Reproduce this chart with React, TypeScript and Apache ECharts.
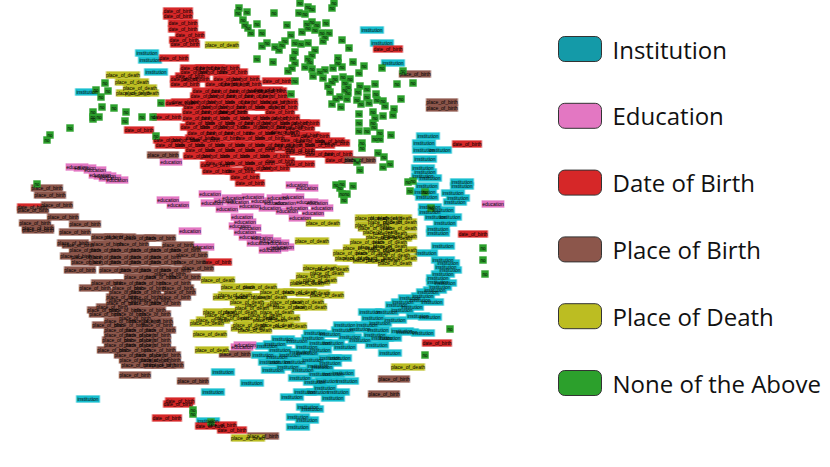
import React, { useEffect, useRef } from "react";
import * as echarts from "echarts";

const institution = [
[147,53],[150,60],[156,72],[87,92],[372,30],[382,43],[393,63],[428,136],[424,143],[424,150],[425,159],[423,168],[425,172],[423,176],[462,182],[462,186],[427,186],[425,192],[427,197],[453,193],[458,198],[455,202],[430,207],[443,210],[436,217],[450,217],[438,229],[438,233],[443,246],[426,253],[443,260],[448,263],[446,267],[443,274],[438,278],[438,282],[440,287],[428,292],[423,296],[420,300],[403,302],[397,305],[402,310],[387,312],[430,317],[418,316],[373,318],[380,323],[367,325],[378,330],[402,331],[423,333],[407,332],[382,338],[377,345],[390,353],[315,333],[343,330],[350,337],[313,338],[333,343],[307,347],[280,350],[290,355],[307,353],[277,357],[330,358],[340,358],[313,360],[330,363],[273,370],[303,370],[320,374],[333,374],[343,373],[327,381],[347,381],[325,388],[338,392],[305,392],[292,397],[333,398],[308,407],[312,409],[298,417],[307,420],[298,427],[223,372],[252,383],[213,392],[88,399],[208,421],[267,346],[263,355],[280,362],[295,362],[300,378],[318,366],[283,339],[297,341],[320,350],[345,347],[360,340],[275,344],
[330,334],[360,329],[395,320],[410,298],[432,302],[445,283],[320,343],[300,352],[288,367],[270,362],[315,382],[322,367],[345,325],[375,335],[390,338],[370,312],[412,307],[435,290],[450,270],[430,212],[445,223],[440,150],[430,178],[318,392]
];

const education = [
[77,167],[85,168],[95,170],[100,175],[110,178],[117,180],[105,176],[171,162],[210,194],[168,200],[178,205],[212,203],[233,198],[253,197],[238,202],[250,206],[227,209],[242,217],[245,222],[250,228],[190,231],[203,247],[250,237],[258,243],[245,345],[242,347],[297,185],[307,188],[278,198],[293,197],[307,202],[317,203],[275,203],[297,208],[313,213],[300,218],[493,204],[277,248],[278,243],[270,250],[240,226],[262,201],[285,203],[287,211],[245,232],[262,238],[270,241],[283,247],[225,201],[270,208],[322,208]
];

const dateOfBirth = [
[178,11],[178,16],[183,23],[183,29],[190,35],[184,40],[185,44],[174,58],
[195,68],[210,68],[225,68],[195,72],[212,72],[233,72],[190,76],[185,79],[195,79],[228,79],[245,79],[185,84],[220,84],[235,84],[247,84],
[207,91],[225,91],[243,91],[260,91],[272,91],[205,96],[222,96],[240,96],[258,96],[273,96],
[186,102],[203,102],[220,102],[240,102],[255,102],[275,102],[283,102],[198,107],[215,107],[232,107],[250,107],[270,107],[283,107],
[197,112],[215,112],[233,112],[232,112],[197,118],[215,118],[235,118],[255,118],[275,118],[285,118],
[200,123],[220,123],[240,123],[258,123],[275,123],[295,123],[305,123],[195,127],[215,127],[232,127],[255,127],[272,127],[290,127],
[202,133],[220,133],[238,133],[260,133],[280,133],[305,135],[315,136],[200,138],[225,138],[250,138],[270,138],[310,141],[330,141],
[168,140],[185,140],[205,140],[170,145],[190,145],[210,145],[230,145],[250,145],[270,145],[288,145],[300,145],[320,145],[335,143],
[200,150],[220,150],[240,150],[260,150],[280,148],[300,150],[198,156],[215,156],[235,156],[255,156],[275,156],[300,152],[320,154],[338,154],
[220,163],[240,163],[260,163],[280,161],[300,164],[275,168],[217,171],[240,171],[245,177],[250,183],[388,49],[467,144],[167,117],[139,130],[180,103],[32,207],[217,262],[180,401],[178,404],[167,418],[210,426],[222,425],[232,430],[473,234],[437,343],[277,81],
[285,132],[295,140],[215,165],[258,168],[268,90],[280,112],[300,128],[340,160]
];

const placeOfBirth = [
[163,155],[47,188],[50,195],[57,205],[33,210],[63,217],[35,223],[38,228],[85,224],[38,230],[75,232],[107,237],[120,237],[140,238],[73,243],[107,244],[133,244],
[85,250],[105,250],[125,250],[145,250],[165,250],[185,250],[87,257],[105,257],[125,257],[145,257],[165,257],[192,255],[87,262],[105,262],[125,262],[145,262],[165,262],[190,262],
[80,270],[115,270],[135,270],[155,270],[175,270],[198,268],[140,277],[160,277],[185,277],[107,283],[130,283],[150,283],[175,283],[95,288],[128,288],[150,288],[178,288],
[125,292],[145,292],[180,292],[122,297],[145,297],[175,297],[122,303],[145,303],[165,303],[103,310],[125,310],[150,310],[105,314],[130,314],[155,314],[120,321],[145,321],[157,321],[108,325],[130,325],[157,325],
[120,330],[140,330],[160,330],[120,335],[140,335],[155,335],[118,340],[140,340],[155,340],[120,345],[140,345],[155,345],[113,350],[135,350],[160,350],[130,355],[150,355],[165,355],[135,360],[155,360],[165,360],[137,365],[160,365],[168,365],
[135,375],[235,354],[193,381],[360,160],[415,74],[442,102],[442,108],[394,379],[384,394],[263,436],
[78,245],[160,238],[178,245],[76,256],[155,300],[112,307],[135,318],[125,300],[170,274]
];

const placeOfDeath = [
[222,45],[123,75],[132,82],[140,88],[142,93],[133,93],[323,223],[372,218],[385,218],[385,222],[400,222],[372,225],[390,233],[383,237],[367,242],[390,242],[390,246],[400,228],[375,228],[395,238],[350,253],[373,253],[393,255],[352,258],[383,260],[370,260],[400,250],[360,248],[312,241],
[332,269],[327,273],[313,276],[307,283],[313,282],[218,280],[238,287],[260,287],[230,297],[253,297],[247,302],[252,308],[220,312],[222,315],[213,320],[207,323],[250,325],[248,328],[210,334],[212,350],
[277,292],[300,292],[313,293],[327,295],[287,302],[307,302],[290,307],[310,307],[277,312],[283,318],[277,325],[290,326],[270,297],[265,315],[258,318],[408,367],[248,438],
[395,218],[380,232],[400,236],[375,247],[385,250],[360,258],[400,258],[395,263],[320,280],[320,268],[235,295],[240,312],[262,305],[270,320],[255,330],[232,318]
];

const noneOfTheAbove = [
[239,8],[238,13],[247,12],[243,20],[245,25],[248,28],[257,24],[251,33],[262,33],[262,46],[267,43],[257,59],[105,83],[96,90],[108,91],[101,97],[161,103],[93,112],[93,117],[93,119],[99,117],[102,107],[114,108],[126,112],[125,121],[142,117],[153,117],[70,128],[50,135],[47,140],[156,136],[37,184],
[300,3],[334,3],[308,7],[312,9],[332,8],[274,13],[299,13],[305,14],[287,25],[312,22],[307,24],[317,25],[326,23],[308,28],[315,30],[302,32],[322,33],[329,33],[291,35],[325,37],[323,41],[342,40],[285,41],[282,45],[295,43],[301,44],[308,43],[275,47],[279,50],[349,48],[295,52],[315,50],[312,55],[308,59],[293,58],[273,62],[295,63],[310,62],[338,58],[338,63],[353,62],[305,67],[292,68],[288,71],[312,69],[320,72],[325,70],[333,68],[342,67],[364,66],[382,68],[403,71],[359,73],[313,76],[323,78],[335,79],[343,77],[350,79],[295,81],[332,82],[345,83],[397,84],[413,83],[328,86],[348,87],[360,86],[375,84],[330,92],[345,90],[358,92],[367,89],[348,93],[291,94],[376,94],[340,97],[347,99],[367,97],[336,99],[357,100],[401,99],[332,104],[341,107],[361,104],[369,103],[383,101],[385,106],[377,100],[394,109],[359,114],[373,112],[383,116],[393,115],[375,118],[373,123],[359,123],[374,127],[359,131],[367,131],[380,133],[391,135],[380,139],[375,139],[362,143],[362,148],[378,153],[384,157],[390,164],[383,167],[357,162],[360,170],[336,185],[353,186],[342,184],[340,188],[347,194],[342,194],[344,200],[408,182],[413,181],[410,191],[425,192],[431,208],[483,248],[483,260],[485,274],[450,329],[425,355],[193,410],[193,414],[211,422]
];

const seriesNames = ["Institution", "Education", "Date of Birth", "Place of Birth", "Place of Death", "None of the Above"];
const shortLabels = ["institution", "education", "date_of_birth", "place_of_birth", "place_of_death", "no"];
const markColors = ["#17becf", "#e377c2", "#d62728", "#8c564b", "#bcbd22", "#2ca02c"];
const haloColors = ["rgba(23,190,207,0.4)", "rgba(227,119,194,0.4)", "rgba(214,39,40,0.4)", "rgba(140,86,75,0.4)", "rgba(188,189,34,0.4)", "rgba(44,160,44,0.4)"];
const legendColors = ["#149aa8", "#e377c2", "#d62728", "#8c564b", "#bcbd22", "#2ca02c"];
const boxSizes = [[23, 7], [22, 7], [29, 7], [31, 7], [33, 7], [7, 7]];
const pointSets = [institution, education, dateOfBirth, placeOfBirth, placeOfDeath, noneOfTheAbove];

export default function App() {
  const ref = useRef<HTMLDivElement>(null);
  useEffect(() => {
    document.body.style.margin = "0";
    const chart = echarts.init(ref.current!, undefined, { renderer: "svg" });
    chart.setOption({
      animation: false,
      backgroundColor: "#ffffff",
      grid: { left: 0, right: 0, top: 0, bottom: 0 },
      xAxis: { type: "value", min: 0, max: 830, show: false },
      yAxis: { type: "value", min: 0, max: 467, inverse: true, show: false },
      legend: {
        orient: "vertical",
        left: 558,
        top: 36,
        padding: 0,
        itemWidth: 43,
        itemHeight: 25,
        itemGap: 40.8,
        selectedMode: false,
        textStyle: { fontFamily: "Open Sans", fontSize: 24, color: "#111", padding: [0, 0, 0, 6], lineHeight: 25, height: 25 },
        data: seriesNames.map((name, i) => ({
          name,
          icon: "roundRect",
          itemStyle: { color: legendColors[i], borderColor: "#333", borderWidth: 1 },
        })),
      },
      series: seriesNames.map((name, i) => ({
        name,
        type: "scatter",
        silent: true,
        symbol: "rect",
        symbolSize: boxSizes[i],
        itemStyle: { color: markColors[i], opacity: 1, borderColor: haloColors[i], borderWidth: 1 },
        label: {
          show: true,
          position: "inside",
          formatter: shortLabels[i],
          fontFamily: "Liberation Sans",
          fontSize: i === 5 ? 4.5 : 5,
          color: "#000",
        },
        data: pointSets[i],
      })),
    });
    return () => chart.dispose();
  }, []);
  return <div ref={ref} style={{ width: 830, height: 467 }} />;
}
